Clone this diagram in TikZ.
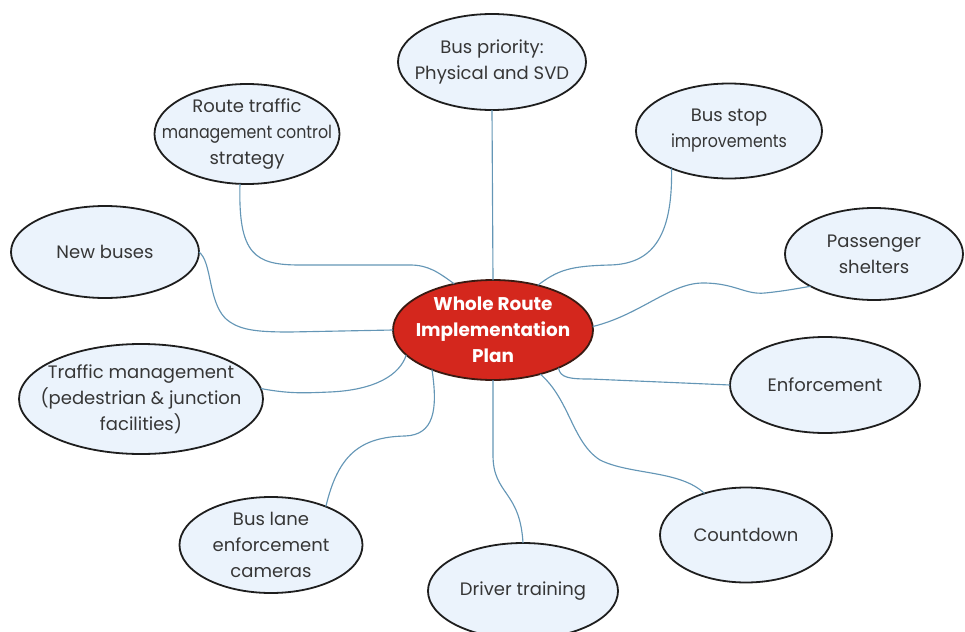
\documentclass[tikz,border=0pt]{standalone}
\usepackage{fontspec}
\setmainfont{Poppins}
\usetikzlibrary{shapes.geometric}
\definecolor{bubfill}{HTML}{EBF3FC}
\definecolor{bubline}{HTML}{1E1E1E}
\definecolor{conncol}{HTML}{6496B6}
\definecolor{centred}{HTML}{D4271D}
\definecolor{centline}{HTML}{3A1A12}
\definecolor{txtcol}{HTML}{363636}
\tikzset{
  bubble/.style={ellipse, draw=bubline, line width=1.35pt, fill=bubfill, inner sep=0pt, outer sep=0pt},
  centre/.style={ellipse, draw=centline, line width=1.35pt, fill=centred, inner sep=0pt, outer sep=0pt},
  txt/.style={align=center, text=txtcol, font=\fontsize{13.5}{19.5}\selectfont, inner sep=0pt},
  ctxt/.style={align=center, text=white, font=\fontsize{13.8}{19.5}\selectfont\bfseries, inner sep=0pt},
  conn/.style={draw=conncol, line width=0.85pt},
}
\newcommand{\narrowtxt}[1]{{\addfontfeature{FakeStretch=0.88}#1}}
\begin{document}
\begin{tikzpicture}[x=0.75pt,y=-0.75pt]
\useasboundingbox (0,0) rectangle (965,632);
% bubbles
\node[centre, minimum width=150pt, minimum height=75pt] (c) at (493,330) {};
\node[bubble, minimum width=141pt, minimum height=72pt] (bp) at (492,62) {};
\node[bubble, minimum width=138.75pt, minimum height=75pt] (rt) at (247,134) {};
\node[bubble, minimum width=139.5pt, minimum height=71.25pt] (bs) at (729,131) {};
\node[bubble, minimum width=141pt, minimum height=69pt] (nb) at (105,252) {};
\node[bubble, minimum width=133.5pt, minimum height=69pt] (ps) at (874,254) {};
\node[bubble, minimum width=183pt, minimum height=82.5pt] (tm) at (141,399) {};
\node[bubble, minimum width=142.5pt, minimum height=72pt] (en) at (825,385) {};
\node[bubble, minimum width=137.25pt, minimum height=72pt] (bl) at (271,545) {};
\node[bubble, minimum width=129pt, minimum height=71.25pt] (cd) at (746,535) {};
\node[bubble, minimum width=142.5pt, minimum height=72pt] (dt) at (523,591) {};
% texts
\node[ctxt] (ct) at (c) {Whole Route\\Implementation\\Plan};
\node[txt] (bpt) at (bp) {Bus priority:\\Physical and SVD};
\node[txt] (rtt) at (rt) {Route traffic\\\narrowtxt{management control}\\strategy};
\node[txt] (bst) at (bs) {Bus stop\\\narrowtxt{improvements}};
\node[txt] (nbt) at (nb) {New buses};
\node[txt] (pst) at (ps) {Passenger\\shelters};
\node[txt] (tmt) at (tm) {Traffic management\\(pedestrian \& junction\\facilities)};
\node[txt] (ent) at (en) {Enforcement};
\node[txt] (blt) at (bl) {Bus lane\\enforcement\\cameras};
\node[txt] (cdt) at (cd) {Countdown};
\node[txt] (dtt) at (dt) {Driver training};
% waypoints
\coordinate (rt1) at (300,265);
\coordinate (rt2) at (410,265);
\coordinate (nb1) at (225,318);
\coordinate (nb2) at (290,332);
\coordinate (tm1) at (330,392);
\coordinate (bl1) at (405,436);
\coordinate (dt1) at (493,455);
\coordinate (cd1) at (600,460);
\coordinate (en1) at (590,379);
\coordinate (ps1) at (703,283);
\coordinate (ps2) at (765,293);
\coordinate (bs1) at (610,265);
% connectors
\draw[conn] (bp.south) -- (c.north);
\draw[conn] (rt.262) .. controls (238,255) and (255,265) .. (rt1) -- (rt2) .. controls (428,265) and (438,272) .. (c.130);
\draw[conn] (nb.east) .. controls (212,262) and (208,300) .. (nb1) .. controls (238,330) and (255,332) .. (nb2) -- (c.west);
\draw[conn] (tm.5) .. controls (290,394) and (305,393) .. (tm1) .. controls (375,390) and (400,375) .. (c.196);
\draw[conn] (bl.35) .. controls (338,455) and (360,437) .. (bl1) .. controls (434,435) and (438,410) .. (c.213);
\draw[conn] (c.south) -- (dt1) .. controls (493,495) and (520,490) .. (dt.north);
\draw[conn] (c.317) .. controls (570,400) and (572,442) .. (cd1) .. controls (630,475) and (680,470) .. (cd.135);
\draw[conn] (c.330) .. controls (560,378) and (570,379) .. (en1) -- (en.west);
\draw[conn] (c.2) .. controls (640,315) and (670,283) .. (ps1) .. controls (735,283) and (745,295) .. (ps2) .. controls (785,291) and (800,288) .. (ps.207);
\draw[conn] (bs.213) .. controls (673,240) and (650,264) .. (bs1) .. controls (570,266) and (558,270) .. (c.45);
\end{tikzpicture}
\end{document}
